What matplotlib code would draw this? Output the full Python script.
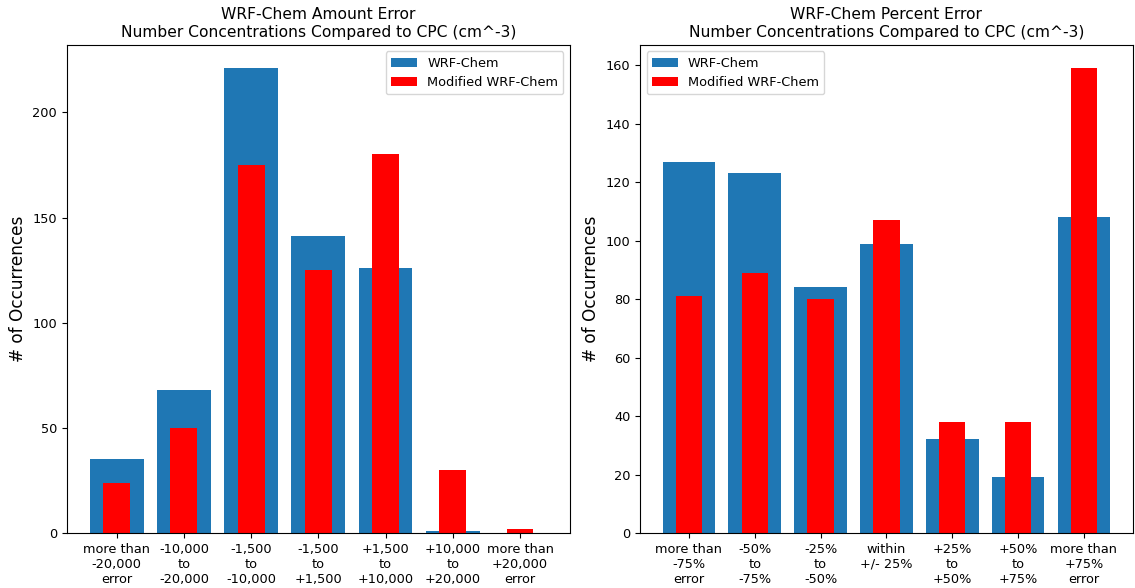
import numpy as np
import matplotlib
matplotlib.use('Agg')
import matplotlib.pyplot as plt

# amount error bins
amount_labels = ['more than\n-20,000\nerror', '-10,000\nto\n-20,000', '-1,500\nto\n-10,000',
                 '-1,500\nto\n+1,500', '+1,500\nto\n+10,000', '+10,000\nto\n+20,000',
                 'more than\n+20,000\nerror']
amount_wrf = [35, 68, 221, 141, 126, 1, 0]
amount_mod = [24, 50, 175, 125, 180, 30, 2]

# percent error bins
percent_labels = ['more than\n-75%\nerror', '-50%\nto\n-75%', '-25%\nto\n-50%',
                  'within\n+/- 25%', '+25%\nto\n+50%', '+50%\nto\n+75%',
                  'more than\n+75%\nerror']
percent_wrf = [127, 123, 84, 99, 32, 19, 108]
percent_mod = [81, 89, 80, 107, 38, 38, 159]

plt.rcParams['font.size'] = 9.3

fig = plt.figure(figsize=(11.35, 5.88), dpi=100)
ax1 = fig.add_axes([0.059, 0.0935, 0.443, 0.830])
ax2 = fig.add_axes([0.564, 0.0935, 0.434, 0.830])

title_tail = 'Number Concentrations Compared to CPC (cm^-3)'

def draw(ax, labels, wrf, mod, title, loc):
    x = np.arange(len(labels))
    ax.bar(x, wrf, width=0.8, color='#1f77b4', label='WRF-Chem')
    ax.bar(x, mod, width=0.4, color='red', label='Modified WRF-Chem')
    ax.set_xticks(x)
    ax.set_xticklabels(labels)
    ax.set_ylabel('# of Occurrences', fontsize=12.2)
    ax.set_title(title + '\n' + title_tail, fontsize=11.2)
    ax.legend(loc=loc)

draw(ax1, amount_labels, amount_wrf, amount_mod, 'WRF-Chem Amount Error', 'upper right')
draw(ax2, percent_labels, percent_wrf, percent_mod, 'WRF-Chem Percent Error', 'upper left')

fig.savefig('out.png', dpi=100)
